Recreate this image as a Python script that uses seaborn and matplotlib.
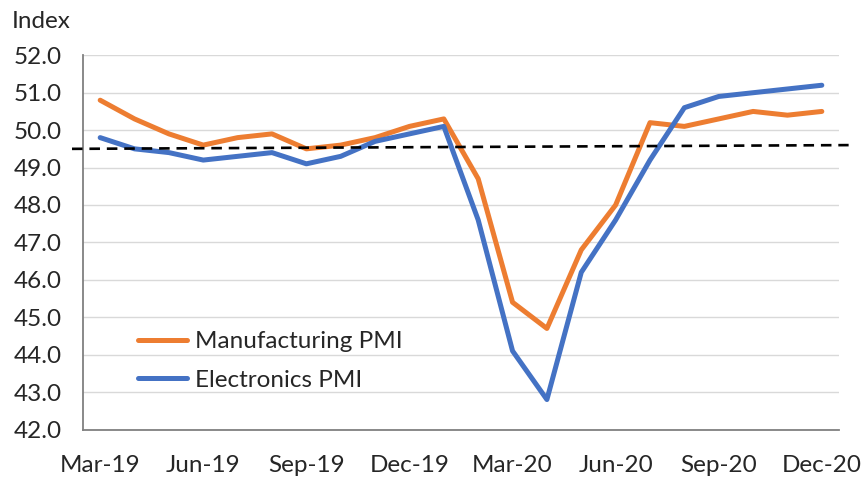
"""
Manufacturing vs electronics PMI, Mar-19 to Dec-20
"""
import numpy as np
import pandas as pd
import matplotlib
matplotlib.use('Agg')
import matplotlib.pyplot as plt
import seaborn as sns

# Data
months = ['Mar-19', 'Apr-19', 'May-19', 'Jun-19', 'Jul-19', 'Aug-19', 'Sep-19', 'Oct-19',
          'Nov-19', 'Dec-19', 'Jan-20', 'Feb-20', 'Mar-20', 'Apr-20', 'May-20', 'Jun-20',
          'Jul-20', 'Aug-20', 'Sep-20', 'Oct-20', 'Nov-20', 'Dec-20']
manufacturing_pmi = [50.8, 50.3, 49.9, 49.6, 49.8, 49.9, 49.5, 49.6, 49.8, 50.1, 50.3,
                     48.7, 45.4, 44.7, 46.8, 48.0, 50.2, 50.1, 50.3, 50.5, 50.4, 50.5]
electronics_pmi = [49.8, 49.5, 49.4, 49.2, 49.3, 49.4, 49.1, 49.3, 49.7, 49.9, 50.1,
                   47.6, 44.1, 42.8, 46.2, 47.6, 49.2, 50.6, 50.9, 51.0, 51.1, 51.2]
# dashed reference line (ends, in category units)
ref_x = [-0.82, 21.78]
ref_y = [49.5, 49.6]
label_months = months[::3]

ORANGE = '#ED7D31'
BLUE = '#4472C4'
FS = 17.5

sns.set_style('white')
plt.rcParams['font.family'] = ['Lato', 'DejaVu Sans']
plt.rcParams['font.size'] = FS

df = pd.DataFrame({
    'pos': np.arange(len(months)),
    'month': months,
    'Manufacturing PMI': manufacturing_pmi,
    'Electronics PMI': electronics_pmi,
})

fig = plt.figure(figsize=(8.62, 4.8), dpi=100)
ax = fig.add_axes([83 / 862, 1 - 429.5 / 480, (839 - 83) / 862, (429.5 - 55.3) / 480])

sns.lineplot(data=df, x='pos', y='Manufacturing PMI', color=ORANGE, lw=3.6,
             label='Manufacturing PMI', ax=ax, solid_capstyle='round', zorder=3)
sns.lineplot(data=df, x='pos', y='Electronics PMI', color=BLUE, lw=3.6,
             label='Electronics PMI', ax=ax, solid_capstyle='round', zorder=3)
ax.plot(ref_x, ref_y, color='black', lw=1.9, ls=(0, (4, 2.6)), clip_on=False, zorder=4)

ax.set_xlim(-0.5, len(months) - 0.5)
ax.set_ylim(42, 52)
ax.set_yticks(np.arange(42, 52.5, 1.0))
ax.set_yticklabels([f'{v:.1f}' for v in np.arange(42, 52.5, 1.0)])
ax.yaxis.grid(True, color='#D9D9D9', lw=1.0)
ax.xaxis.grid(False)

# ticks sit between categories, labels centred on the category
ax.set_xticks(np.arange(-0.5, len(months), 3))
ax.set_xticklabels([])
ax.set_xticks(np.arange(0, len(months), 3), minor=True)
ax.set_xticklabels(label_months, minor=True)
ax.tick_params(axis='x', which='major', direction='out', length=8, width=1.2, color='#808080')
ax.tick_params(axis='x', which='minor', length=0, pad=18.5, labelsize=FS)
ax.tick_params(axis='y', direction='out', length=8, width=1.2, color='#808080', pad=7.5,
               labelsize=FS)

for side in ['top', 'right']:
    ax.spines[side].set_visible(False)
for side in ['left', 'bottom']:
    ax.spines[side].set_color('#808080')
    ax.spines[side].set_linewidth(1.3)

ax.set_xlabel('')
ax.set_ylabel('')

fig.text(12 / 862, 1 - 28 / 480, 'Index', fontsize=FS, va='baseline', ha='left')

leg = ax.legend(loc='upper left', bbox_to_anchor=(138 / 862, 1 - 331 / 480),
                bbox_transform=fig.transFigure, frameon=False, fontsize=FS,
                handlelength=2.0, handletextpad=0.35, labelspacing=0.72,
                borderpad=0, borderaxespad=0)
for line in leg.get_lines():
    line.set_linewidth(3.6)
    line.set_solid_capstyle('round')

fig.savefig('out.png', dpi=100)
